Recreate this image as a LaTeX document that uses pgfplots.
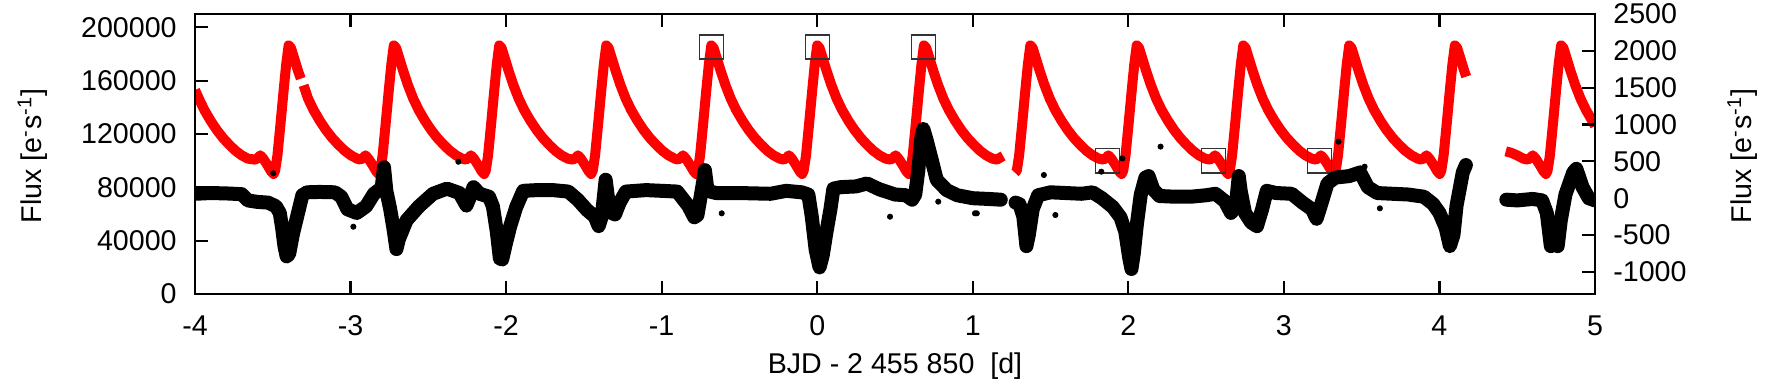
\documentclass[border=0pt]{standalone}
\usepackage{pgfplots}
\pgfplotsset{compat=1.18}
\usepackage{fontspec}
\setmainfont{Liberation Sans}
\begin{document}
\begin{tikzpicture}[font=\fontsize{14.3pt}{17pt}\selectfont]
\useasboundingbox (0,0) rectangle (885.5pt,192pt);
\pgfplotsset{myax/.style={
  at={(97.5pt,45pt)}, anchor=south west,
  width=700pt, height=140pt, scale only axis,
  xmin=-4, xmax=5,
  axis line style={line width=1.3pt},
  every tick/.style={line width=1.1pt, black},
  major tick length=6.5pt,
  tick align=inside,
  scaled ticks=false,
  tick label style={font=\fontsize{14.3pt}{17pt}\selectfont, inner sep=0pt},
  yticklabel shift=9pt,
  xticklabel shift=10.5pt,
  unbounded coords=jump,
  label style={font=\fontsize{14.3pt}{17pt}\selectfont},
}}
\begin{axis}[myax,
  ymin=0, ymax=210000,
  ytick={0,40000,80000,120000,160000,200000},
  yticklabels={0,40000,80000,120000,160000,200000},
  ytick pos=left,
  xtick={-4,-3,-2,-1,0,1,2,3,4,5},
  xticklabels={-4,-3,-2,-1,0,1,2,3,4,5},
  xtick pos=both,
  xlabel={BJD - 2 455 850\ \ [d]},
  ylabel={Flux [e\textsuperscript{-}s\textsuperscript{-1}]},
  every axis x label/.style={at={(axis description cs:0.5,0)}, anchor=base, yshift=-40pt, inner sep=0pt},
  every axis y label/.style={at={(axis description cs:-0.1095,0.493)}, rotate=90, anchor=base, inner sep=0pt},
]
\addplot[red, line width=5pt, line join=round] coordinates {
(-4.000,153000) (-3.975,146500) (-3.940,138000) (-3.900,130000) (-3.860,123000)
(-3.820,117000) (-3.780,112000) (-3.740,107500) (-3.700,104000) (-3.660,101500)
(-3.613,100800) (-3.596,102000) (-3.580,104000) (-3.561,101500) (-3.536,97000)
(-3.511,92000) (-3.495,90000) (-3.485,92500) (-3.470,104000) (-3.450,128000)
(-3.430,153000) (-3.414,172000) (-3.398,186500)
(-3.383,184500) (-3.363,177000) (-3.338,167500) (-3.320,161500) (-3.312,nan) (-3.302,156500)
(-3.273,146500) (-3.238,138000) (-3.198,130000) (-3.158,123000) (-3.118,117000)
(-3.078,112000) (-3.038,107500) (-2.998,104000) (-2.958,101500) (-2.937,100800)
(-2.920,102000) (-2.904,104000) (-2.885,101500) (-2.860,97000) (-2.835,92000)
(-2.819,90000) (-2.809,92500) (-2.794,104000) (-2.774,128000) (-2.754,153000)
(-2.738,172000) (-2.722,186500)
(-2.707,184500) (-2.687,177000) (-2.662,167500) (-2.632,157000) (-2.597,146500)
(-2.562,138000) (-2.522,130000) (-2.482,123000) (-2.442,117000) (-2.402,112000)
(-2.362,107500) (-2.322,104000) (-2.282,101500) (-2.259,100800) (-2.242,102000)
(-2.226,104000) (-2.207,101500) (-2.182,97000) (-2.157,92000) (-2.141,90000)
(-2.131,92500) (-2.116,104000) (-2.096,128000) (-2.076,153000) (-2.060,172000)
(-2.044,186500)
(-2.029,184500) (-2.009,177000) (-1.984,167500) (-1.954,157000) (-1.919,146500)
(-1.884,138000) (-1.844,130000) (-1.804,123000) (-1.764,117000) (-1.724,112000)
(-1.684,107500) (-1.644,104000) (-1.604,101500) (-1.571,100800) (-1.554,102000)
(-1.538,104000) (-1.519,101500) (-1.494,97000) (-1.469,92000) (-1.453,90000)
(-1.443,92500) (-1.428,104000) (-1.408,128000) (-1.388,153000) (-1.372,172000)
(-1.356,186500)
(-1.341,184500) (-1.321,177000) (-1.296,167500) (-1.266,157000) (-1.231,146500)
(-1.196,138000) (-1.156,130000) (-1.116,123000) (-1.076,117000) (-1.036,112000)
(-0.996,107500) (-0.956,104000) (-0.916,101500) (-0.896,100800) (-0.879,102000)
(-0.863,104000) (-0.844,101500) (-0.819,97000) (-0.794,92000) (-0.778,90000)
(-0.768,92500) (-0.753,104000) (-0.733,128000) (-0.713,153000) (-0.697,172000)
(-0.681,186500)
(-0.666,184500) (-0.646,177000) (-0.621,167500) (-0.591,157000) (-0.556,146500)
(-0.521,138000) (-0.481,130000) (-0.441,123000) (-0.401,117000) (-0.361,112000)
(-0.321,107500) (-0.281,104000) (-0.241,101500) (-0.215,100800) (-0.198,102000)
(-0.182,104000) (-0.163,101500) (-0.138,97000) (-0.113,92000) (-0.097,90000)
(-0.087,92500) (-0.072,104000) (-0.052,128000) (-0.032,153000) (-0.016,172000)
(0.000,186500)
(0.015,184500) (0.035,177000) (0.060,167500) (0.090,157000) (0.125,146500)
(0.160,138000) (0.200,130000) (0.240,123000) (0.280,117000) (0.320,112000)
(0.360,107500) (0.400,104000) (0.440,101500) (0.471,100800) (0.488,102000)
(0.504,104000) (0.523,101500) (0.548,97000) (0.573,92000) (0.589,90000)
(0.599,92500) (0.614,104000) (0.634,128000) (0.654,153000) (0.670,172000)
(0.686,186500)
(0.701,184500) (0.721,177000) (0.746,167500) (0.776,157000) (0.811,146500)
(0.846,138000) (0.886,130000) (0.926,123000) (0.966,117000) (1.006,112000)
(1.046,107500) (1.086,104000) (1.126,101500) (1.155,100800) (1.172,102000)
(1.195,103500)
(1.230,nan)
(1.271,91000) (1.283,92500) (1.298,104000) (1.318,128000) (1.338,153000)
(1.354,172000) (1.370,186500)
(1.385,184500) (1.405,177000) (1.430,167500) (1.460,157000) (1.495,146500)
(1.530,138000) (1.570,130000) (1.610,123000) (1.650,117000) (1.690,112000)
(1.730,107500) (1.770,104000) (1.810,101500) (1.839,100800) (1.856,102000)
(1.872,104000) (1.891,101500) (1.916,97000) (1.941,92000) (1.957,90000)
(1.967,92500) (1.982,104000) (2.002,128000) (2.022,153000) (2.038,172000)
(2.054,186500)
(2.069,184500) (2.089,177000) (2.114,167500) (2.144,157000) (2.179,146500)
(2.214,138000) (2.254,130000) (2.294,123000) (2.334,117000) (2.374,112000)
(2.414,107500) (2.454,104000) (2.494,101500) (2.524,100800) (2.541,102000)
(2.557,104000) (2.576,101500) (2.601,97000) (2.626,92000) (2.642,90000)
(2.652,92500) (2.667,104000) (2.687,128000) (2.707,153000) (2.723,172000)
(2.739,186500)
(2.754,184500) (2.774,177000) (2.799,167500) (2.829,157000) (2.864,146500)
(2.899,138000) (2.939,130000) (2.979,123000) (3.019,117000) (3.059,112000)
(3.099,107500) (3.139,104000) (3.179,101500) (3.205,100800) (3.222,102000)
(3.238,104000) (3.257,101500) (3.282,97000) (3.307,92000) (3.323,90000)
(3.333,92500) (3.348,104000) (3.368,128000) (3.388,153000) (3.404,172000)
(3.420,186500)
(3.435,184500) (3.455,177000) (3.480,167500) (3.510,157000) (3.545,146500)
(3.580,138000) (3.620,130000) (3.660,123000) (3.700,117000) (3.740,112000)
(3.780,107500) (3.820,104000) (3.860,101500) (3.884,100800) (3.901,102000)
(3.917,104000) (3.936,101500) (3.961,97000) (3.986,92000) (4.002,90000)
(4.012,92500) (4.027,104000) (4.047,128000) (4.067,153000) (4.083,172000)
(4.099,186500)
(4.114,184500) (4.134,177000) (4.159,167500) (4.172,163000)
(4.300,nan)
(4.426,107000) (4.459,106000) (4.499,104000) (4.539,101500) (4.567,100800)
(4.584,102000) (4.600,104000) (4.619,101500) (4.644,97000) (4.669,92000)
(4.685,90000) (4.695,92500) (4.710,104000) (4.730,128000) (4.750,153000)
(4.766,172000) (4.782,186500)
(4.797,184500) (4.817,177000) (4.842,167500) (4.872,157000) (4.907,146500)
(4.942,138000) (4.982,130000) (5.000,126000)
};
\draw[line width=0.75pt, black!80] (axis cs:-0.758,176100) rectangle (axis cs:-0.604,194400);
\draw[line width=0.75pt, black!80] (axis cs:-0.074,176100) rectangle (axis cs:0.078,194400);
\draw[line width=0.75pt, black!80] (axis cs:0.607,176100) rectangle (axis cs:0.761,194400);
\draw[line width=0.75pt, black!80] (axis cs:1.789,90600) rectangle (axis cs:1.942,109300);
\draw[line width=0.75pt, black!80] (axis cs:2.470,90600) rectangle (axis cs:2.625,109300);
\draw[line width=0.75pt, black!80] (axis cs:3.153,90600) rectangle (axis cs:3.306,109300);
\end{axis}
\begin{axis}[myax,
  ymin=-1300, ymax=2500,
  ytick={-1000,-500,0,500,1000,1500,2000,2500},
  yticklabels={-1000,-500,0,500,1000,1500,2000,2500},
  ytick pos=right, yticklabel pos=right,
  xtick=\empty,
  ylabel={Flux [e\textsuperscript{-}s\textsuperscript{-1}]},
  every axis y label/.style={at={(axis description cs:1.1119,0.493)}, rotate=90, anchor=base, inner sep=0pt},
]
\addplot[black, line width=7pt, line join=round, line cap=round] coordinates {
(-4.000,60) (-3.900,70) (-3.800,65) (-3.700,55) (-3.660,-30) (-3.600,-50)
(-3.530,-60) (-3.480,-110) (-3.455,-200) (-3.440,-400) (-3.425,-650) (-3.411,-790)
(-3.395,-760) (-3.370,-480) (-3.340,-220) (-3.310,40) (-3.280,80) (-3.200,85)
(-3.100,80) (-3.060,20) (-3.020,-150) (-2.960,-200) (-2.900,-110) (-2.850,60)
(-2.800,140) (-2.785,420) (-2.770,100) (-2.745,-150) (-2.725,-400) (-2.705,-690)
(-2.690,-560) (-2.640,-300) (-2.560,-110) (-2.470,60) (-2.380,130) (-2.300,70)
(-2.255,-100) (-2.230,30) (-2.210,150) (-2.170,60) (-2.110,20) (-2.085,-110)
(-2.060,-450) (-2.040,-820) (-2.025,-830) (-2.000,-600) (-1.975,-390) (-1.935,-120)
(-1.890,100) (-1.800,110) (-1.700,110) (-1.600,90) (-1.540,-20) (-1.480,-160)
(-1.430,-250) (-1.405,-380) (-1.385,-250) (-1.360,250) (-1.345,0) (-1.320,-200)
(-1.300,-220) (-1.270,-60) (-1.230,90) (-1.100,110) (-1.000,100) (-0.900,90)
(-0.830,-100) (-0.790,-260) (-0.770,-230) (-0.735,200) (-0.722,380) (-0.705,100)
(-0.650,70) (-0.500,70) (-0.300,60) (-0.200,100) (-0.100,80) (-0.057,50)
(-0.035,-250) (-0.010,-700) (0.015,-940) (0.035,-780) (0.060,-450) (0.085,-150)
(0.104,130) (0.150,150) (0.250,160) (0.320,200) (0.400,120) (0.500,50)
(0.570,40) (0.610,-20) (0.630,50) (0.650,380) (0.668,800) (0.682,940)
(0.703,790) (0.736,520) (0.768,250) (0.832,110) (0.900,40) (1.000,0)
(1.100,-10) (1.180,-20)
(1.230,nan)
(1.275,-60) (1.300,-80) (1.325,-250) (1.345,-650) (1.360,-500) (1.385,-150)
(1.420,40) (1.500,80) (1.600,70) (1.700,60) (1.770,80) (1.830,0)
(1.900,-120) (1.950,-260) (1.980,-450) (2.005,-800) (2.020,-960) (2.035,-750)
(2.055,-350) (2.080,50) (2.110,280) (2.130,300) (2.160,120) (2.200,30)
(2.300,20) (2.400,20) (2.500,40) (2.560,60) (2.620,-40) (2.660,-200)
(2.690,-120) (2.710,300) (2.722,100) (2.750,-200) (2.790,-330) (2.827,-380)
(2.860,-150) (2.890,100) (2.950,70) (3.050,60) (3.120,-60) (3.180,-150)
(3.210,-280) (3.240,-80) (3.280,200) (3.330,280) (3.420,300) (3.490,350)
(3.540,150) (3.600,70) (3.700,60) (3.800,50) (3.900,20) (3.960,-80)
(4.000,-200) (4.040,-400) (4.067,-650) (4.090,-500) (4.110,-100) (4.150,350)
(4.170,450)
(4.300,nan)
(4.430,-20) (4.500,-30) (4.600,-10) (4.660,-30) (4.690,-200) (4.716,-650)
(4.735,-350) (4.760,-650) (4.780,-300) (4.810,50) (4.860,350) (4.880,400)
(4.920,150) (4.960,0) (5.000,-30)
};
\addplot[only marks, mark=*, mark size=1.3pt, black] coordinates {
(-3.497,338) (-2.982,-387) (-2.736,-296) (-2.307,495) (-0.614,-205)
(0.468,-251) (1.014,-205) (0.778,-47) (2.207,700) (1.531,-228)
(1.457,315) (1.826,360) (1.962,539) (1.026,-205) (3.351,767)
(3.519,428) (3.617,-137)
};
\end{axis}
\end{tikzpicture}
\end{document}
